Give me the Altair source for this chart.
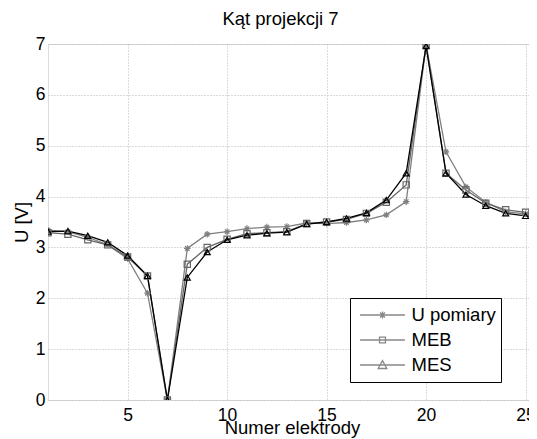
import altair as alt
import pandas as pd

# ---- data ----
electrodes = list(range(1, 27))
u_pomiary = [3.34, 3.31, 3.20, 3.05, 2.78, 2.10, 0.00, 2.98, 3.26, 3.31, 3.37, 3.40, 3.41,
             3.48, 3.47, 3.49, 3.54, 3.64, 3.90, 6.98, 4.88, 4.19, 3.89, 3.70, 3.66, 3.63]
meb = [3.29, 3.26, 3.15, 3.05, 2.81, 2.44, 0.00, 2.67, 3.00, 3.16, 3.27, 3.29, 3.31,
       3.47, 3.50, 3.55, 3.67, 3.89, 4.23, 6.99, 4.46, 4.13, 3.87, 3.74, 3.69, 3.65]
mes = [3.31, 3.32, 3.23, 3.10, 2.84, 2.44, 0.00, 2.41, 2.91, 3.15, 3.24, 3.28, 3.30,
       3.46, 3.50, 3.57, 3.68, 3.93, 4.46, 6.96, 4.46, 4.04, 3.82, 3.67, 3.62, 3.60]
series_names = ["U pomiary", "MEB", "MES"]
series_colors = ["#808080", "#666666", "#000000"]
x_ticks = [5, 10, 15, 20, 25]
y_ticks = [0, 1, 2, 3, 4, 5, 6, 7]
title_text = "Kąt projekcji 7"
x_title = "Numer elektrody"
y_title = "U [V]"

rows = []
for name, vals in zip(series_names, [u_pomiary, meb, mes]):
    for e, v in zip(electrodes, vals):
        rows.append({"electrode": e, "U": v, "series": name})
df = pd.DataFrame(rows)

FONT = "Liberation Sans"

# marker symbols (plot) and legend symbols (line + marker)
marker_paths = [
    "M-1,0L1,0M0,-1L0,1M-0.7,-0.7L0.7,0.7M-0.7,0.7L0.7,-0.7",
    "square",
    "triangle-up",
]
marker_sizes = [42, 36, 72]
legend_paths = [
    "M-0.83,0L0.83,0M0,-0.13L0,0.13M-0.09,-0.09L0.09,0.09M-0.09,0.09L0.09,-0.09",
    "M-0.83,0L0.83,0M-0.11,-0.11L0.11,-0.11L0.11,0.11L-0.11,0.11Z",
    "M-0.83,0L0.83,0M0,-0.16L0.16,0.13L-0.16,0.13Z",
]

PLOT_W = 481
PLOT_H = 356
x_scale = alt.Scale(domain=[1, 1 + PLOT_W / 19.9], nice=False, zero=False)
y_scale = alt.Scale(domain=[0, 7], nice=False, zero=False)
stroke_scale = alt.Scale(domain=series_names, range=series_colors)

x_enc = alt.X(
    "electrode:Q",
    scale=x_scale,
    axis=alt.Axis(
        values=x_ticks, title=x_title, grid=True, gridDash=[1, 2], gridColor="#b5b5b5",
        domain=False, ticks=False, tickSize=0, labelFlush=False, labelOverlap=False,
        labelFont=FONT, labelFontSize=17.5, labelColor="black", labelPadding=20,
        labelBaseline="alphabetic",
        titleFont=FONT, titleFontSize=18.5, titleFontWeight="normal", titleColor="black",
        titleX=244, titleY=33.5, titleBaseline="alphabetic",
    ),
)
y_enc = alt.Y(
    "U:Q",
    scale=y_scale,
    axis=alt.Axis(
        values=y_ticks, title=y_title, grid=True, gridDash=[1, 2], gridColor="#b5b5b5",
        domain=False, ticks=False, tickSize=0, labelFlush=False, labelOverlap=False,
        labelFont=FONT, labelFontSize=17.5, labelColor="black", labelPadding=3,
        titleFont=FONT, titleFontSize=18.5, titleFontWeight="normal", titleColor="black",
        titleX=-21, titleY=178, titleBaseline="alphabetic",
    ),
)

base = alt.Chart(df)

lines = base.mark_line(strokeWidth=1.3, clip=True).encode(
    x=x_enc, y=y_enc,
    stroke=alt.Stroke("series:N", scale=stroke_scale, legend=None),
)

points = base.mark_point(filled=False, opacity=1, strokeWidth=1.2, clip=True).encode(
    x=x_enc, y=y_enc,
    stroke=alt.Stroke("series:N", scale=stroke_scale, legend=None),
    shape=alt.Shape("series:N", scale=alt.Scale(domain=series_names, range=marker_paths), legend=None),
    size=alt.Size("series:O", scale=alt.Scale(domain=series_names, range=marker_sizes), legend=None),
)

legend_opts = dict(
    title=None, orient="none", legendX=302, legendY=254, padding=4.5,
    symbolSize=54 * 54, clipHeight=25, rowPadding=0,
    labelFont=FONT, labelFontSize=18.5, labelColor="black", labelOffset=1,
    strokeColor="black", fillColor="white",
    symbolStrokeWidth=1.3, symbolOpacity=1,
)

legend_layer = base.transform_filter("false").mark_point(filled=False, opacity=1).encode(
    x=x_enc, y=y_enc,
    color=alt.Color("series:N", scale=alt.Scale(domain=series_names, range=series_colors),
                    legend=alt.Legend(**legend_opts)),
    shape=alt.Shape("series:N", scale=alt.Scale(domain=series_names, range=legend_paths),
                    legend=alt.Legend(**legend_opts)),
)

chart = (
    alt.layer(lines, points, legend_layer)
    .resolve_scale(shape="independent")
    .properties(
        width=PLOT_W,
        height=PLOT_H,
        autosize=alt.AutoSizeParams(type="none"),
        padding={"left": 40, "top": 36, "right": 0, "bottom": 39},
        title=alt.TitleParams(
            title_text, font=FONT, fontSize=18.5, fontWeight="normal", color="black",
            anchor="middle", frame="group", baseline="alphabetic", offset=0, dy=8.5,
            dx=280.5 - (48 + PLOT_W / 2),
        ),
    )
    .configure_view(stroke="#9a9a9a", strokeWidth=1)
    .configure(background="white")
)

chart.save("out.html", embed_options={"renderer": "svg", "actions": False})
